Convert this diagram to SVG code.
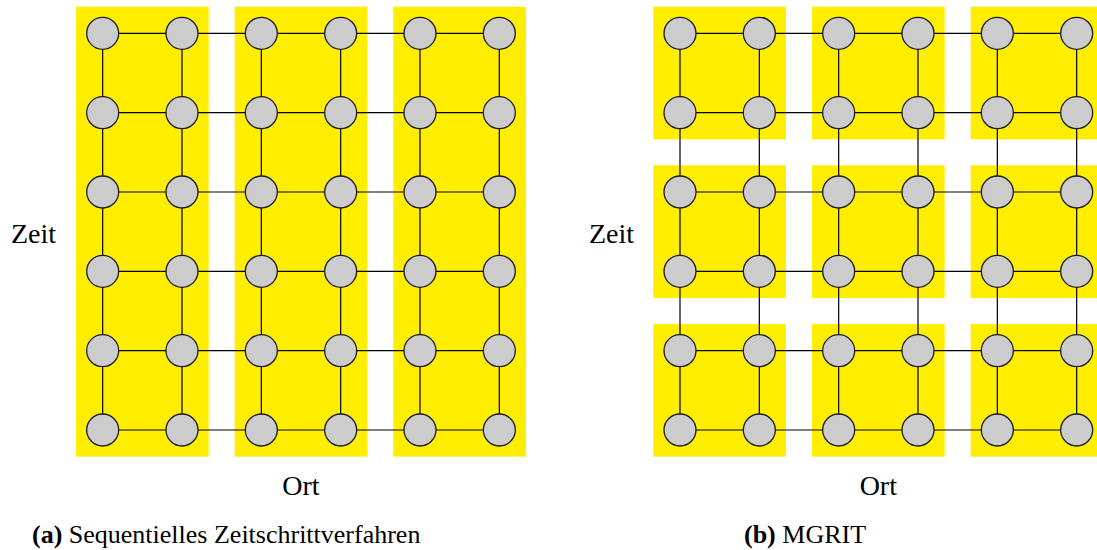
<svg xmlns="http://www.w3.org/2000/svg" width="1097" height="550" viewBox="0 0 1097 550">
<style>
.blk{fill:#ffee00;stroke:none}
.e{stroke:#000;stroke-width:1.2;fill:none}
.n{fill:#cccccc;stroke:#1a1a1a;stroke-width:1.3}
.lbl{font-family:"Liberation Serif","Times New Roman",serif;font-size:28px;fill:#000}
.cap{font-family:"Liberation Serif","Times New Roman",serif;font-size:26px;fill:#000}
.b{font-weight:bold}
</style>
<defs>
<circle id="c" r="16" class="n"/>
</defs>
<rect width="1097" height="550" fill="#fff"/>
<g id="blocks-a">
<rect class="blk" x="76" y="6.67" width="132.67" height="450"/>
<rect class="blk" x="234.67" y="6.67" width="132.67" height="450"/>
<rect class="blk" x="393.33" y="6.67" width="132.67" height="450"/>
</g>
<g id="blocks-b">
<rect class="blk" x="653.33" y="6.67" width="132.67" height="132.67"/>
<rect class="blk" x="812" y="6.67" width="132.67" height="132.67"/>
<rect class="blk" x="970.67" y="6.67" width="132.67" height="132.67"/>
<rect class="blk" x="653.33" y="165.33" width="132.67" height="132.67"/>
<rect class="blk" x="812" y="165.33" width="132.67" height="132.67"/>
<rect class="blk" x="970.67" y="165.33" width="132.67" height="132.67"/>
<rect class="blk" x="653.33" y="324" width="132.67" height="132.67"/>
<rect class="blk" x="812" y="324" width="132.67" height="132.67"/>
<rect class="blk" x="970.67" y="324" width="132.67" height="132.67"/>
</g>
<g id="connectors" class="e">
<path d="M102.67 33.33H499.33M102.67 112.67H499.33M102.67 192H499.33M102.67 271.33H499.33M102.67 350.67H499.33M102.67 430H499.33"/>
<path d="M102.67 33.33V430M182 33.33V430M261.33 33.33V430M340.67 33.33V430M420 33.33V430M499.33 33.33V430"/>
<path d="M680 33.33H1076.67M680 112.67H1076.67M680 192H1076.67M680 271.33H1076.67M680 350.67H1076.67M680 430H1076.67"/>
<path d="M680 33.33V430M759.33 33.33V430M838.67 33.33V430M918 33.33V430M997.33 33.33V430M1076.67 33.33V430"/>
</g>
<g id="nodes-a">
<g id="a-r0c0"><use href="#c" x="102.67" y="33.33"/></g><g id="a-r0c1"><use href="#c" x="182" y="33.33"/></g><g id="a-r0c2"><use href="#c" x="261.33" y="33.33"/></g><g id="a-r0c3"><use href="#c" x="340.67" y="33.33"/></g><g id="a-r0c4"><use href="#c" x="420" y="33.33"/></g><g id="a-r0c5"><use href="#c" x="499.33" y="33.33"/></g>
<g id="a-r1c0"><use href="#c" x="102.67" y="112.67"/></g><g id="a-r1c1"><use href="#c" x="182" y="112.67"/></g><g id="a-r1c2"><use href="#c" x="261.33" y="112.67"/></g><g id="a-r1c3"><use href="#c" x="340.67" y="112.67"/></g><g id="a-r1c4"><use href="#c" x="420" y="112.67"/></g><g id="a-r1c5"><use href="#c" x="499.33" y="112.67"/></g>
<g id="a-r2c0"><use href="#c" x="102.67" y="192"/></g><g id="a-r2c1"><use href="#c" x="182" y="192"/></g><g id="a-r2c2"><use href="#c" x="261.33" y="192"/></g><g id="a-r2c3"><use href="#c" x="340.67" y="192"/></g><g id="a-r2c4"><use href="#c" x="420" y="192"/></g><g id="a-r2c5"><use href="#c" x="499.33" y="192"/></g>
<g id="a-r3c0"><use href="#c" x="102.67" y="271.33"/></g><g id="a-r3c1"><use href="#c" x="182" y="271.33"/></g><g id="a-r3c2"><use href="#c" x="261.33" y="271.33"/></g><g id="a-r3c3"><use href="#c" x="340.67" y="271.33"/></g><g id="a-r3c4"><use href="#c" x="420" y="271.33"/></g><g id="a-r3c5"><use href="#c" x="499.33" y="271.33"/></g>
<g id="a-r4c0"><use href="#c" x="102.67" y="350.67"/></g><g id="a-r4c1"><use href="#c" x="182" y="350.67"/></g><g id="a-r4c2"><use href="#c" x="261.33" y="350.67"/></g><g id="a-r4c3"><use href="#c" x="340.67" y="350.67"/></g><g id="a-r4c4"><use href="#c" x="420" y="350.67"/></g><g id="a-r4c5"><use href="#c" x="499.33" y="350.67"/></g>
<g id="a-r5c0"><use href="#c" x="102.67" y="430"/></g><g id="a-r5c1"><use href="#c" x="182" y="430"/></g><g id="a-r5c2"><use href="#c" x="261.33" y="430"/></g><g id="a-r5c3"><use href="#c" x="340.67" y="430"/></g><g id="a-r5c4"><use href="#c" x="420" y="430"/></g><g id="a-r5c5"><use href="#c" x="499.33" y="430"/></g>
</g>
<g id="nodes-b">
<g id="b-r0c0"><use href="#c" x="680" y="33.33"/></g><g id="b-r0c1"><use href="#c" x="759.33" y="33.33"/></g><g id="b-r0c2"><use href="#c" x="838.67" y="33.33"/></g><g id="b-r0c3"><use href="#c" x="918" y="33.33"/></g><g id="b-r0c4"><use href="#c" x="997.33" y="33.33"/></g><g id="b-r0c5"><use href="#c" x="1076.67" y="33.33"/></g>
<g id="b-r1c0"><use href="#c" x="680" y="112.67"/></g><g id="b-r1c1"><use href="#c" x="759.33" y="112.67"/></g><g id="b-r1c2"><use href="#c" x="838.67" y="112.67"/></g><g id="b-r1c3"><use href="#c" x="918" y="112.67"/></g><g id="b-r1c4"><use href="#c" x="997.33" y="112.67"/></g><g id="b-r1c5"><use href="#c" x="1076.67" y="112.67"/></g>
<g id="b-r2c0"><use href="#c" x="680" y="192"/></g><g id="b-r2c1"><use href="#c" x="759.33" y="192"/></g><g id="b-r2c2"><use href="#c" x="838.67" y="192"/></g><g id="b-r2c3"><use href="#c" x="918" y="192"/></g><g id="b-r2c4"><use href="#c" x="997.33" y="192"/></g><g id="b-r2c5"><use href="#c" x="1076.67" y="192"/></g>
<g id="b-r3c0"><use href="#c" x="680" y="271.33"/></g><g id="b-r3c1"><use href="#c" x="759.33" y="271.33"/></g><g id="b-r3c2"><use href="#c" x="838.67" y="271.33"/></g><g id="b-r3c3"><use href="#c" x="918" y="271.33"/></g><g id="b-r3c4"><use href="#c" x="997.33" y="271.33"/></g><g id="b-r3c5"><use href="#c" x="1076.67" y="271.33"/></g>
<g id="b-r4c0"><use href="#c" x="680" y="350.67"/></g><g id="b-r4c1"><use href="#c" x="759.33" y="350.67"/></g><g id="b-r4c2"><use href="#c" x="838.67" y="350.67"/></g><g id="b-r4c3"><use href="#c" x="918" y="350.67"/></g><g id="b-r4c4"><use href="#c" x="997.33" y="350.67"/></g><g id="b-r4c5"><use href="#c" x="1076.67" y="350.67"/></g>
<g id="b-r5c0"><use href="#c" x="680" y="430"/></g><g id="b-r5c1"><use href="#c" x="759.33" y="430"/></g><g id="b-r5c2"><use href="#c" x="838.67" y="430"/></g><g id="b-r5c3"><use href="#c" x="918" y="430"/></g><g id="b-r5c4"><use href="#c" x="997.33" y="430"/></g><g id="b-r5c5"><use href="#c" x="1076.67" y="430"/></g>
</g>
<g id="labels">
<text class="lbl" x="11" y="242.5">Zeit</text>
<text class="lbl" x="589" y="242.5">Zeit</text>
<text class="lbl" x="301" y="494.5" text-anchor="middle">Ort</text>
<text class="lbl" x="878.3" y="494.5" text-anchor="middle">Ort</text>
<text class="cap" x="32" y="543"><tspan class="b">(a)</tspan> Sequentielles Zeitschrittverfahren</text>
<text class="cap" x="744" y="543"><tspan class="b">(b)</tspan> MGRIT</text>
</g>
</svg>
